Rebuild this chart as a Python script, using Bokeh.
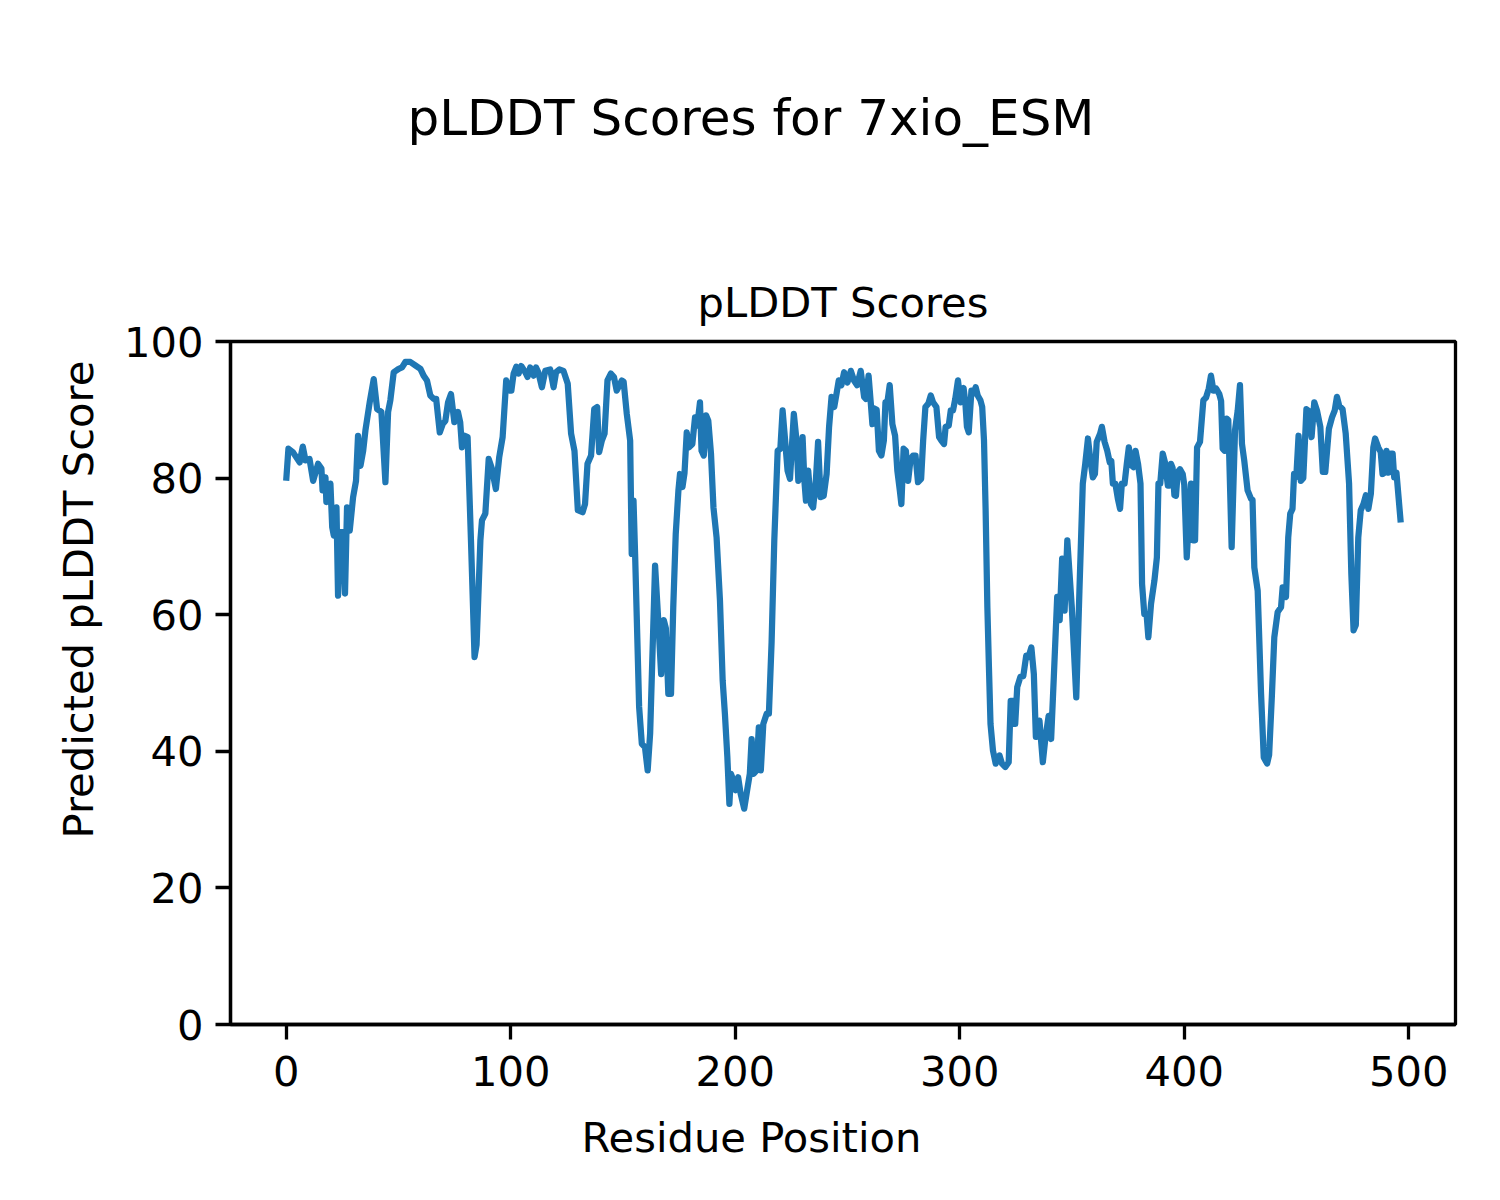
from bokeh.plotting import figure
from bokeh.models import Range1d, Title, FixedTicker, LinearAxis
from bokeh.embed import file_html
from bokeh.resources import INLINE

suptitle_text = "pLDDT Scores for 7xio_ESM"
axes_title_text = "pLDDT Scores"
x_label_text = "Residue Position"
y_label_text = "Predicted pLDDT Score"
x_ticks = [0, 100, 200, 300, 400, 500]
y_ticks = [0, 20, 40, 60, 80, 100]

residues = [
    0, 1, 3, 6, 7.4, 8.6, 10.4, 12, 14.2, 15.7, 16.2, 17.5, 17.9, 19.7, 20.5, 21.2, 22.4, 23.1, 24.2, 25.6,
    26.2, 27.1, 28.3, 29.8, 31.1, 32, 33.1, 34.3, 35.3, 37.2, 39, 40.5, 42.4, 44.2, 45.4, 46.4, 47.9, 50.1,
    51.6, 53.1, 55.3, 57.5, 59.8, 61.2, 62.7, 64.2, 65.7, 66.8, 68.4, 69.7, 70.9, 72.1, 73.4, 74.9, 76.5,
    77.5, 78.3, 79.5, 80.8, 82.3, 83.9, 84.8, 86.5, 87.2, 88.7, 90.2, 91.6, 93.4, 94.9, 96.4, 98.0, 99.5,
    100.3, 101.3, 102.5, 103.5, 104.7, 106.5, 107.5, 108.7, 110.2, 111.3, 112.3, 113.9, 115.4, 117.6, 119.1,
    120.2, 121.7, 123.5, 125.4, 126.9, 128.4, 129.9, 132, 133.1, 134.2, 135.8, 137.2, 138.5, 139.4, 140.6,
    141.8, 143.1, 144.6, 146, 147.2, 148.3, 149.5, 150.3, 151.7, 153.2, 153.9, 154.7, 155.4, 157.2, 158.4,
    159.8, 161.0, 162.1, 164.3, 165.8, 167, 168.2, 169.1, 170.2, 171.4, 172.4, 173.5, 174.7, 175.4, 176.5,
    177.4, 178.4, 179.4, 180.9, 182.1, 183.1, 184.3, 185, 186, 187, 188, 189.2, 190.3, 191.7, 193.2, 194.4,
    195.4, 196.5, 197.4, 198.1, 199.2, 200.2, 201.3, 202.4, 204, 205.5, 206.5, 207.3, 208.2, 209.5, 210.5,
    211.4, 212.5, 214, 215, 216.2, 217.4, 218.9, 220.1, 221.1, 222.1, 223.3, 224.4, 226.1, 227.3, 228.1,
    229.4, 230, 230.8, 231.5, 232.5, 233.7, 234.7, 235.9, 236.9, 238, 239.4, 240.7, 241.8, 242.9, 244.1,
    245.1, 246.1, 247.3, 248.5, 250, 251.5, 252.9, 254.3, 255.9, 257.4, 258.2, 259.4, 260.4, 261.1, 261.9,
    263, 264, 265.1, 266.2, 266.9, 267.8, 268.8, 270, 271.2, 272.2, 273.3, 274, 275, 276, 277, 278.1, 279.2,
    280.3, 281.4, 282.8, 283.7, 284.7, 286, 287.1, 288.1, 289.6, 290.8, 291.8, 293, 293.7, 295.1, 296, 297,
    298, 299.2, 300.4, 301.7, 302.5, 303.2, 304, 305.2, 306.2, 307.1, 308, 309.2, 310, 310.8, 311.5, 312.3,
    313, 313.7, 314.8, 316, 317.7, 318.8, 320.3, 321.8, 322.7, 323.7, 324.7, 325.6, 327, 328.3, 329.6, 330.6,
    331.9, 333, 333.9, 334.8, 335.5, 337, 338.1, 339.6, 340.7, 341.9, 343.4, 344.5, 345.6, 346.7, 347.9,
    349.9, 351.9, 353.3, 354.8, 355.9, 357.1, 358.3, 359.3, 360.2, 361, 362.5, 363.3, 364.5, 365.7, 366.8,
    367.5, 368.2, 369.3, 370.4, 371.4, 372.2, 373.4, 374.4, 375.3, 376.4, 377.4, 378.3, 379.4, 380.5, 381.2,
    382.2, 383.2, 384, 385.2, 386.7, 387.8, 388.5, 389.3, 390.4, 391.4, 392.7, 393.4, 394.1, 394.8, 395.6,
    396.3, 397.1, 398.1, 399.3, 400, 401.1, 402.1, 403, 403.8, 404.8, 405.7, 407, 408.5, 409.7, 410.9, 411.9,
    413, 414.2, 415.6, 416.4, 417.1, 417.9, 418.9, 419.6, 421.1, 422.6, 423.8, 424.8, 425.7, 426.7, 428.2,
    429.7, 430.4, 431.2, 432.7, 434.2, 435.4, 436.9, 437.8, 439, 440.1, 441.6, 443.1, 443.8, 445.3, 446.3,
    447.2, 448.2, 448.9, 449.9, 450.9, 451.9, 453, 454.4, 455.6, 456.7, 457.9, 459.1, 460.6, 461.7, 462.8,
    463.6, 464.4, 465.8, 467, 468, 469, 470.5, 471.9, 473.4, 474.4, 475.4, 476.4, 477.5, 478.6, 479.8, 480.9,
    482, 483.1, 484.2, 485, 486.4, 487.5, 488.3, 489.3, 490.1, 491, 492, 492.8, 493.5, 494.5, 496.4,
]

scores = [
    79.6, 84.3, 83.8, 82.3, 84.6, 82.6, 82.8, 79.6, 82.1, 81.4, 78.2, 80.1, 76.5, 79.2, 72.8, 71.6, 75.7, 62.8, 72.1, 72.1,
    63.1, 75.7, 72.3, 77.2, 79.6, 86.2, 81.8, 84.0, 87.0, 91.1, 94.5, 90.1, 89.7, 79.4, 89.7, 91.4, 95.5, 96.0,
    96.2, 97.0, 97.0, 96.5, 96.0, 95.0, 94.3, 92.1, 91.6, 91.6, 86.7, 87.9, 88.4, 91.1, 92.3, 88.2, 89.7,
    88.2, 84.5, 86.2, 86.0, 70.9, 53.8, 55.6, 70.9, 73.8, 74.8, 82.8, 81.4, 78.4, 83.1, 86.0, 94.3, 92.8,
    92.8, 95.3, 96.3, 95.3, 96.4, 95.5, 94.8, 96.2, 95.0, 96.2, 95.5, 93.3, 95.7, 95.9, 93.3,
    95.5, 95.9, 95.7, 93.8, 86.5, 84.0, 75.3, 75.0, 76.2, 82.1, 83.3, 90.1, 90.4, 83.8, 85.5,
    86.5, 94.3, 95.3, 94.8, 92.8, 93.5, 94.3, 94.1, 89.4, 85.5, 68.9, 76.7, 68.9, 46.5, 41.1,
    40.6, 37.2, 42.6, 67.2, 58.7, 51.3, 59.2, 58.0, 48.4, 48.4, 61.1, 71.8, 78.2, 80.6, 78.7,
    80.7, 86.7, 84.5, 85.0, 88.9, 87.7, 91.1, 84.0, 83.3, 89.2, 88.4, 83.6, 75.7, 71.3, 62.1, 50.4,
    45.5, 39.1, 32.3, 36.7, 35.7, 34.3, 36.2, 33.8, 31.6, 34.7, 36.7, 41.8, 36.7, 37.2, 43.5,
    37.2, 44.0, 45.5, 45.5, 56.0, 70.9, 84.0, 84.3, 89.9, 86.0, 81.1, 79.9, 89.4, 85.5, 79.6,
    80.6, 86.0, 79.6, 76.7, 81.1, 76.2, 75.7, 79.6, 85.3, 77.2, 77.4, 80.6, 87.5, 91.9, 90.4,
    92.3, 94.3, 93.6, 95.5, 94.0, 95.7, 94.3, 93.6, 95.7, 91.9, 91.6, 95.0, 90.9, 87.9, 90.2,
    90.0, 84.0, 83.3, 85.5, 91.1, 91.2, 93.6, 87.9, 86.2, 81.1, 78.2, 76.2, 84.3, 84.0, 79.6, 82.8, 83.3,
    83.3, 79.4, 79.9, 85.5, 90.4, 90.9, 92.1, 91.1, 90.4, 86.0, 85.5, 85.0, 87.5, 87.7, 89.9, 89.9,
    91.6, 94.3, 91.1, 93.2, 91.0, 87.5, 86.7, 92.8, 92.4, 93.3, 92.1, 91.4, 90.4, 85.5, 75.7, 61.1,
    52.3, 44.0, 40.1, 38.2, 39.4, 38.2, 37.7, 38.4, 47.4, 47.4, 44.0, 49.4, 50.9, 51.0, 54.0, 53.8,
    55.2, 51.3, 42.1, 42.2, 44.5, 38.4, 41.8, 45.2, 41.8, 50.9, 62.6, 59.2, 68.2, 60.6, 70.9,
    61.1, 47.9, 63.5, 79.2, 82.1, 85.8, 82.3, 80.1, 80.6, 85.3, 86.5, 87.5, 85.3, 84.0, 82.3,
    82.5, 79.2, 79.2, 77.0, 75.5, 79.2, 79.2, 82.1, 84.5, 81.9, 81.6, 84.0, 82.1, 79.2, 64.5,
    60.1, 60.1, 56.7, 61.6, 65.0, 68.4, 79.2, 79.2, 83.6, 82.3, 78.9, 78.9, 82.1, 81.5, 77.5,
    77.4, 80.9, 81.3, 80.6, 79.0, 68.4, 74.3, 79.2, 70.9, 70.9, 84.5, 85.3, 91.4, 91.8, 93.1, 95.0,
    92.8, 93.1, 92.3, 91.3, 84.3, 84.0, 88.7, 88.5, 69.9, 87.0, 89.9, 93.6, 85.0, 82.6, 78.2,
    77.0, 76.8, 66.9, 63.5, 48.4, 39.1, 38.2, 39.5, 48.0, 56.7, 60.4, 61.1, 64.0, 62.6, 71.3,
    74.8, 75.5, 80.6, 80.2, 86.2, 79.6, 80.0, 90.1, 89.8, 86.0, 91.1, 89.9, 87.5, 80.9, 80.9,
    84.0, 87.2, 88.9, 89.9, 91.9, 90.6, 90.1, 86.5, 79.2, 66.0, 57.7, 58.5, 71.3, 75.3, 76.2, 77.5,
    75.5, 77.7, 84.5, 85.8, 84.5, 83.8, 80.6, 80.8, 84.0, 80.8, 83.6, 83.6, 80.1, 80.8, 73.5,
]

FONT = "DejaVu Sans"
W, H = 1484, 1184
LEFT, RIGHT, TOP, BOTTOM = 230, 29, 341, 160

p = figure(width=W, height=H, output_backend="svg", toolbar_location=None,
           x_range=Range1d(-24.8, 520.8), y_range=Range1d(0, 100),
           min_border_left=LEFT, min_border_right=RIGHT,
           min_border_top=TOP, min_border_bottom=BOTTOM)
p.background_fill_color = "white"
p.border_fill_color = "white"
p.outline_line_color = "black"
p.outline_line_width = 3.3
p.grid.visible = False
p.title.text = ""

for ax in (p.xaxis[0], p.yaxis[0]):
    ax.axis_line_color = "black"
    ax.axis_line_width = 3.3
    ax.major_tick_line_color = "black"
    ax.major_tick_line_width = 3.3
    ax.major_tick_out = 15
    ax.major_tick_in = 0
    ax.minor_tick_line_color = None
    ax.major_label_text_font = FONT
    ax.major_label_text_font_size = "41.67px"
    ax.major_label_text_color = "black"

p.xaxis[0].ticker = FixedTicker(ticks=x_ticks)
p.yaxis[0].ticker = FixedTicker(ticks=y_ticks)
p.xaxis[0].major_label_standoff = 16
p.yaxis[0].major_label_standoff = 12

p.line(residues, scores, line_width=6.25, line_color="#1f77b4", line_join="round")

def side_title(text, size, align, offset, standoff):
    return Title(text=text, align=align, offset=offset, standoff=standoff,
                 text_font=FONT, text_font_size=size, text_font_style="normal",
                 text_color="black")

# axes title (innermost panel above, centred on the frame)
p.add_layout(side_title(axes_title_text, "41.67px", "center", 0, 30), "above")

# blank spacer between the axes title and the figure title: one practically transparent tick, no label text
spacer = LinearAxis(ticker=FixedTicker(ticks=[-20]), axis_line_color=None,
                    major_tick_line_color="white", major_tick_line_alpha=0.01,
                    major_tick_line_width=1, minor_tick_line_color=None,
                    major_tick_out=109, major_tick_in=0, major_label_standoff=0,
                    major_label_overrides={-20: ""},
                    major_label_text_font_size="1px", major_label_text_color="white")
p.add_layout(spacer, "above")

# figure-level title, left-anchored so it is centred on the figure
p.add_layout(side_title(suptitle_text, "50px", "left", 177, 10), "above")

# figure-level axis labels
p.add_layout(side_title(x_label_text, "41.67px", "left", 351, 45), "below")
p.add_layout(side_title(y_label_text, "41.67px", "left", 186, 36), "left")

open("out.html", "w").write(file_html(p, INLINE))
